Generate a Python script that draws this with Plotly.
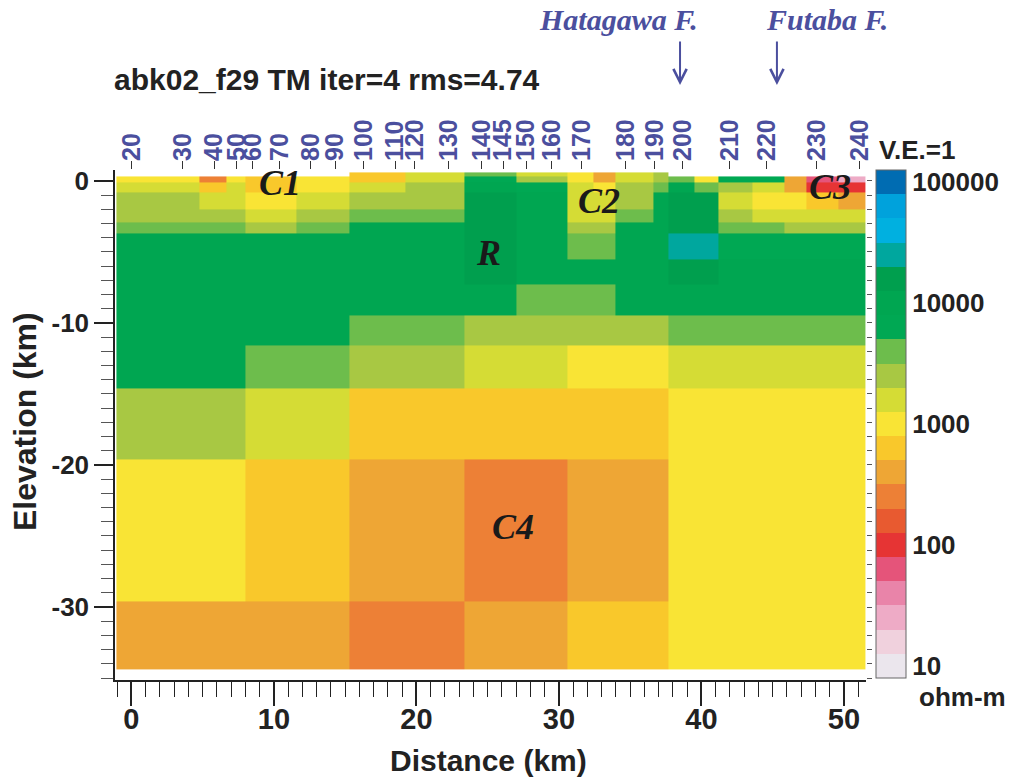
import plotly.graph_objects as go

# ---------------- data ----------------
# column edges of the resistivity model (km along profile)
x_edges = [-1.05, 4.8, 6.7, 8.0, 11.6, 15.3, 19.2, 23.4, 27.0, 30.6, 32.4, 34.0,
           36.6, 37.7, 39.5, 41.2, 43.6, 45.8, 47.4, 49.6, 51.5]
# row edges, top to bottom (km elevation)
y_edges_top_down = [0.6, 0.3, -0.1, -0.8, -2.0, -2.9, -3.7, -5.5, -7.3, -9.5,
                    -11.6, -14.6, -19.6, -29.6, -34.4]

N = None
# log10 resistivity (ohm-m), one list per model row, top to bottom
row_topo = [N, N, N, N, N, 2.8, 3.2, 3.6, 3.2, 3.0, 2.6, 3.2, 3.4, N, N, N, N, N, N, N]
row_01 = [3.0, 2.4, 3.0, 2.8, 3.0, 2.8, 3.2, 3.8, 3.4, 3.0, 2.6, 3.2, 3.4, 3.6, 3.0, 3.8, 3.8, 2.6, 1.8, 1.4]
row_02 = [3.2, 2.8, 3.2, 2.8, 3.0, 3.2, 3.4, 4.0, 3.8, 3.2, 3.0, 3.4, 3.6, 4.0, 3.6, 3.4, 3.2, 2.6, 2.0, 2.0]
row_03 = [3.4, 3.2, 3.2, 3.0, 3.2, 3.4, 3.4, 4.2, 4.0, 3.2, 3.2, 3.4, 4.0, 4.2, 4.2, 3.2, 3.0, 3.0, 2.8, 2.6]
row_04 = [3.4, 3.4, 3.4, 3.2, 3.4, 3.6, 3.6, 4.2, 4.0, 3.2, 3.2, 3.6, 4.0, 4.2, 4.2, 3.4, 3.2, 3.2, 3.2, 3.2]
row_05 = [3.6, 3.6, 3.6, 3.4, 3.6, 4.0, 4.0, 4.2, 4.0, 3.4, 3.4, 4.0, 4.0, 4.2, 4.2, 3.6, 3.6, 3.4, 3.4, 3.4]
row_06 = [4.0, 4.0, 4.0, 4.0, 4.0, 4.0, 4.0, 4.2, 4.0, 3.6, 3.6, 4.0, 4.0, 4.4, 4.4, 3.8, 3.8, 3.8, 3.8, 3.8]
row_07 = [4.0, 4.0, 4.0, 4.0, 4.0, 4.0, 4.0, 4.2, 4.0, 4.0, 4.0, 4.0, 4.0, 4.2, 4.2, 4.0, 4.0, 4.0, 4.0, 4.0]
row_08 = [4.0, 4.0, 4.0, 4.0, 4.0, 4.0, 4.0, 4.0, 3.6, 3.6, 3.6, 4.0, 4.0, 4.0, 4.0, 4.0, 4.0, 4.0, 4.0, 4.0]
row_09 = [4.0, 4.0, 4.0, 4.0, 4.0, 3.6, 3.6, 3.4, 3.4, 3.4, 3.4, 3.4, 3.4, 3.6, 3.6, 3.6, 3.6, 3.6, 3.6, 3.6]
row_10 = [4.0, 4.0, 4.0, 3.6, 3.6, 3.4, 3.4, 3.2, 3.2, 3.0, 3.0, 3.0, 3.0, 3.2, 3.2, 3.2, 3.2, 3.2, 3.2, 3.2]
row_11 = [3.4, 3.4, 3.4, 3.2, 3.2, 2.8, 2.8, 2.8, 2.8, 2.8, 2.8, 2.8, 2.8, 3.0, 3.0, 3.0, 3.0, 3.0, 3.0, 3.0]
row_12 = [3.0, 3.0, 3.0, 2.8, 2.8, 2.6, 2.6, 2.4, 2.4, 2.6, 2.6, 2.6, 2.6, 3.0, 3.0, 3.0, 3.0, 3.0, 3.0, 3.0]
row_13 = [2.6, 2.6, 2.6, 2.6, 2.6, 2.4, 2.4, 2.6, 2.6, 2.8, 2.8, 2.8, 2.8, 3.0, 3.0, 3.0, 3.0, 3.0, 3.0, 3.0]
rows_top_down = [row_topo, row_01, row_02, row_03, row_04, row_05, row_06, row_07,
                 row_08, row_09, row_10, row_11, row_12, row_13]

# stations along the top
stations = [20, 30, 40, 50, 60, 70, 80, 90, 100, 110, 120, 130, 140, 145, 150,
            160, 170, 180, 190, 200, 210, 220, 230, 240]
station_km = [0.0, 3.6, 5.8, 7.4, 8.5, 10.4, 12.6, 14.3, 16.3, 18.5, 19.9, 22.25,
              24.6, 26.1, 27.7, 29.5, 31.6, 34.7, 36.7, 38.7, 42.0, 44.6, 48.1, 51.1]

faults = ["Hatagawa F.", "Futaba F."]
fault_km = [38.5, 45.3]
fault_label_km = [34.2, 48.8]

zone_labels = ["C1", "C2", "C3", "C4", "R"]
zone_x = [10.4, 32.8, 49.0, 26.8, 25.05]
zone_y = [-0.15, -1.4, -0.4, -24.4, -5.07]

x_tickvals = [0, 10, 20, 30, 40, 50]
y_tickvals = [0, -10, -20, -30]
cbar_tickvals = [1, 2, 3, 4, 5]
cbar_ticktext = ["10", "100", "1000", "10000", "100000"]

band_colors = ["#ebe6ed", "#f0d1dd", "#eeabc6", "#e984a9", "#e5547a", "#e63434",
               "#e85a30", "#ed8036", "#eea635", "#f9c82b", "#f9e435", "#d5dc35",
               "#a8c843", "#6dbd4c", "#00a853", "#00a651", "#009f4e", "#00a79e",
               "#00b0e0", "#00a2dc", "#006cb2"]
zmin, zmax = 0.9, 5.1

# ---------------- build ----------------
nb = len(band_colors)
colorscale = []
for k, c in enumerate(band_colors):
    colorscale.append([k / nb, c])
    colorscale.append([(k + 1) / nb, c])

y_edges = y_edges_top_down[::-1]
z = rows_top_down[::-1]

SANS = "Liberation Sans, Arial, Helvetica, sans-serif"
SERIF = "Liberation Serif, Times New Roman, serif"
BLUE = "#4b4f9e"
INK = "#222222"

W, H = 1016, 780
ML, MR, MT, MB = 115, 150, 170, 100
PW, PH = W - ML - MR, H - MT - MB
XR = [-1.15, 51.55]
YR = [-35.14, 0.77]


def py(v):
    """pixel row -> paper y"""
    return (MT + PH - v) / PH


def px(v):
    """pixel column -> paper x"""
    return (v - ML) / PW


fig = go.Figure()
fig.add_trace(go.Heatmap(
    x=x_edges, y=y_edges, z=z, zmin=zmin, zmax=zmax, colorscale=colorscale,
    hoverinfo="skip",
    colorbar=dict(
        x=px(876), xanchor="left", y=1, yanchor="top",
        lenmode="pixels", len=508, thicknessmode="pixels", thickness=30,
        xpad=0, ypad=0, outlinewidth=1, outlinecolor="#666666",
        tickvals=cbar_tickvals, ticktext=cbar_ticktext, ticks="",
        tickfont=dict(family=SANS, size=26, color=INK, weight="bold"),
    ),
))
# carrier trace for the overlay (station / right) axes
fig.add_trace(go.Scatter(
    x=station_km, y=[0] * len(station_km), xaxis="x2", yaxis="y2",
    mode="markers", marker=dict(opacity=0), hoverinfo="skip", showlegend=False,
))

fig.update_layout(
    width=W, height=H, margin=dict(l=ML, r=MR, t=MT, b=MB, autoexpand=False),
    paper_bgcolor="white", plot_bgcolor="white", showlegend=False,
    xaxis=dict(
        range=XR, showgrid=False, zeroline=False, showline=True, linecolor=INK,
        linewidth=1.5, ticks="outside", ticklen=24, tickwidth=1.5, tickcolor=INK,
        tickvals=x_tickvals, ticktext=[str(v) for v in x_tickvals], automargin=False,
        ticklabelstandoff=-12,
        minor=dict(dtick=1, tick0=0, ticks="outside", ticklen=15, tickwidth=1,
                   tickcolor=INK, showgrid=False),
        tickfont=dict(family=SANS, size=29, color=INK, weight="bold"),
    ),
    yaxis=dict(
        range=YR, showgrid=False, zeroline=False, showline=True, linecolor=INK,
        linewidth=1.5, ticks="outside", ticklen=19, tickwidth=1.5, tickcolor=INK,
        tickvals=y_tickvals, ticktext=[str(v) for v in y_tickvals], automargin=False,
        minor=dict(dtick=1, tick0=0, ticks="outside", ticklen=12, tickwidth=1,
                   tickcolor="#555555", showgrid=False),
        tickfont=dict(family=SANS, size=26, color=INK, weight="bold"),
    ),
    xaxis2=dict(
        overlaying="x", anchor="y", side="top", range=XR, showgrid=False,
        zeroline=False, showline=False, ticks="outside", ticklen=8, tickwidth=1,
        tickcolor="#333333", tickvals=station_km, ticktext=[str(s) for s in stations],
        tickangle=-90, automargin=False, ticklabelstandoff=-5,
        tickfont=dict(family=SANS, size=25, color=BLUE, weight="bold"),
    ),
    yaxis2=dict(
        overlaying="y", anchor="x", side="right", range=YR, showgrid=False,
        zeroline=False, showline=False, ticks="outside", ticklen=5, tickwidth=1,
        tickcolor="#555555", dtick=1, tick0=0, showticklabels=False, automargin=False,
    ),
)

ann = []
ann.append(dict(text="abk02_f29 TM iter=4 rms=4.74", xref="paper", yref="paper",
                x=px(112), y=py(80), xanchor="left", yanchor="middle",
                showarrow=False, font=dict(family=SANS, size=30, color=INK, weight="bold")))
ann.append(dict(text="Elevation (km)", xref="paper", yref="paper", textangle=-90,
                x=px(25), y=py(422), xanchor="center", yanchor="middle",
                showarrow=False, font=dict(family=SANS, size=32, color=INK, weight="bold")))
ann.append(dict(text="Distance (km)", xref="paper", yref="paper",
                x=px(488), y=py(761), xanchor="center", yanchor="middle",
                showarrow=False, font=dict(family=SANS, size=30, color=INK, weight="bold")))
ann.append(dict(text="V.E.=1", xref="paper", yref="paper",
                x=px(877), y=py(150), xanchor="left", yanchor="middle",
                showarrow=False, font=dict(family=SANS, size=26, color=INK, weight="bold")))
ann.append(dict(text="ohm-m", xref="paper", yref="paper",
                x=px(917), y=py(697), xanchor="left", yanchor="middle",
                showarrow=False, font=dict(family=SANS, size=26, color=INK, weight="bold")))
for name, fk, lk in zip(faults, fault_km, fault_label_km):
    ann.append(dict(text=f"<b><i>{name}</i></b>", xref="x", yref="paper", x=lk,
                    y=py(20), xanchor="center", yanchor="middle", showarrow=False,
                    font=dict(family=SERIF, size=30, color=BLUE)))
    ann.append(dict(text="", xref="x", yref="paper", x=fk, y=py(85),
                    showarrow=True, ax=0, ay=-45, arrowhead=5, arrowsize=1.3,
                    arrowwidth=2, arrowcolor=BLUE))
for lab, zx, zy in zip(zone_labels, zone_x, zone_y):
    ann.append(dict(text=f"<b><i>{lab}</i></b>", xref="x", yref="y", x=zx, y=zy,
                    xanchor="center", yanchor="middle", showarrow=False,
                    font=dict(family=SERIF, size=36, color="#1a1a1a")))
fig.update_layout(annotations=ann)

fig.write_html("out.html",
               config={"displayModeBar": False},
               post_script="document.body.style.margin='0px';"
                           "document.body.style.padding='0px';")
